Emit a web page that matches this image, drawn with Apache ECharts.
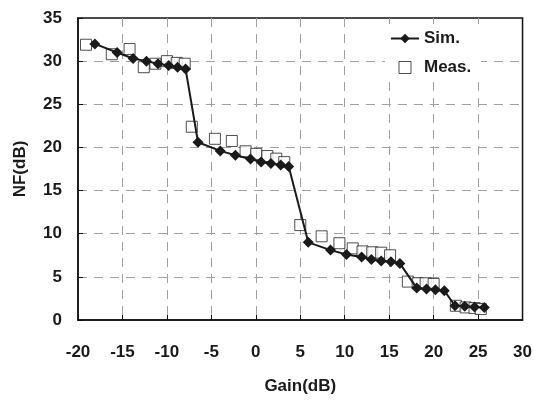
<!DOCTYPE html>
<html><head><meta charset="utf-8">
<script src="https://cdn.jsdelivr.net/npm/echarts@6/dist/echarts.min.js"></script>
<style>html,body{margin:0;padding:0;background:#fff}#c{width:535px;height:400px}</style>
</head><body><div id="c"></div>
<script>
const simGain = [-18.1,-15.6,-13.8,-12.3,-11.0,-9.8,-8.8,-7.9,-6.5,-4.0,-2.3,-0.6,0.6,1.7,2.8,3.7,5.9,8.4,10.2,11.9,13.0,14.1,15.2,16.2,18.1,19.2,20.2,21.2,22.4,23.5,24.6,25.7];
const simNF   = [32.0,31.0,30.3,30.0,29.7,29.5,29.3,29.1,20.6,19.6,19.1,18.65,18.3,18.15,17.96,17.8,9.0,8.1,7.6,7.3,7.0,6.85,6.75,6.56,3.7,3.6,3.5,3.4,1.65,1.58,1.5,1.46];
const measGain = [-19.1,-16.2,-14.2,-12.6,-11.3,-10.0,-8.9,-8.0,-7.2,-4.6,-2.7,-1.15,0.05,1.3,2.3,3.2,5.0,7.4,9.4,10.9,12.0,13.1,14.1,15.1,17.1,18.2,19.1,20.0,22.5,23.6,24.6,25.3];
const measNF   = [31.9,30.8,31.4,29.3,29.7,30.0,29.8,29.7,22.4,21.0,20.75,19.55,19.25,19.0,18.7,18.3,11.0,9.7,8.9,8.3,7.95,7.85,7.8,7.5,4.45,4.26,4.26,4.18,1.65,1.46,1.38,1.27];
const xTicks = [-20,-15,-10,-5,0,5,10,15,20,25,30];
const yTicks = [0,5,10,15,20,25,30,35];

const font = 'Liberation Sans, Arial, sans-serif';
const txt = '#1a1a1a';
const chart = echarts.init(document.getElementById('c'), null, {renderer:'canvas'});
chart.setOption({
  animation:false,
  backgroundColor:'#fff',
  grid:{left:78, right:11, top:18, bottom:78, show:true, borderColor:'#111', borderWidth:1.5, backgroundColor:'transparent'},
  xAxis:{type:'value', min:xTicks[0], max:xTicks[xTicks.length-1], interval:5,
    name:'Gain(dB)', nameLocation:'middle', nameGap:58,
    nameTextStyle:{fontFamily:font, fontWeight:'bold', fontSize:17, color:txt},
    axisLine:{show:true, onZero:false, lineStyle:{color:'#111', width:1.5}},
    axisTick:{show:true, inside:true, length:5, lineStyle:{color:'#111'}},
    axisLabel:{fontFamily:font, fontWeight:'bold', fontSize:17, color:txt, margin:24},
    splitLine:{show:true, showMinLine:false, showMaxLine:false, lineStyle:{color:'#a0a0a0', type:[9,7], width:1}}},
  yAxis:{type:'value', min:yTicks[0], max:yTicks[yTicks.length-1], interval:5,
    name:'NF(dB)', nameLocation:'middle', nameGap:49, nameRotate:90,
    nameTextStyle:{fontFamily:font, fontWeight:'bold', fontSize:17, color:txt},
    axisLine:{show:true, onZero:false, lineStyle:{color:'#111', width:1.5}},
    axisTick:{show:true, inside:true, length:5, lineStyle:{color:'#111'}},
    axisLabel:{fontFamily:font, fontWeight:'bold', fontSize:17, color:txt, margin:16},
    splitLine:{show:true, showMinLine:false, showMaxLine:false, lineStyle:{color:'#a0a0a0', type:[9,7], width:1}}},
  legend:{orient:'vertical', left:385, top:24, itemGap:12, itemWidth:28, itemHeight:12,
    symbolKeepAspect:true,
    backgroundColor:'#fff', padding:[6,10,6,5],
    textStyle:{fontFamily:font, fontWeight:'bold', fontSize:17, color:txt},
    data:[{name:'Sim.'},{name:'Meas.', icon:'path://M0,0L10,0L10,10L0,10Z', itemStyle:{color:'#fff', borderColor:'#222', borderWidth:1}}]},
  series:[
    {name:'Meas.', type:'scatter', symbol:'rect', symbolSize:11,
      itemStyle:{color:'#fff', borderColor:'#222', borderWidth:1},
      data:measGain.map((g,i)=>[g,measNF[i]]), z:2},
    {name:'Sim.', type:'line', symbol:'diamond', symbolSize:11, showSymbol:true,
      lineStyle:{color:'#1a1a1a', width:2}, itemStyle:{color:'#1a1a1a'},
      data:simGain.map((g,i)=>[g,simNF[i]]), z:3}
  ]
});
</script></body></html>
